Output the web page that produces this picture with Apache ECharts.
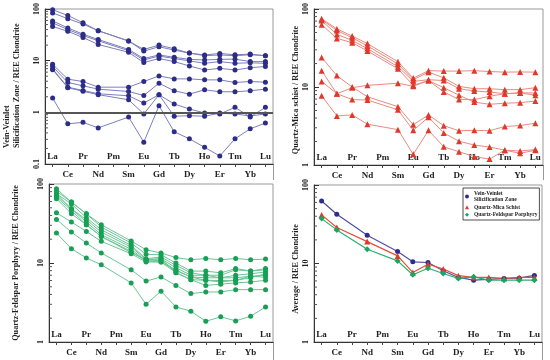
<!DOCTYPE html>
<html>
<head>
<meta charset="utf-8">
<script src="https://cdn.jsdelivr.net/npm/echarts@6/dist/echarts.min.js"></script>
<style>html,body{margin:0;padding:0;background:#fff}#c{width:550px;height:360px}</style>
</head>
<body>
<div id="c"></div>
<script>
const cats = ['La','Ce','Pr','Nd','Pm','Sm','Eu','Gd','Tb','Dy','Ho','Er','Tm','Yb','Lu'];

// Panel 1: Vein-Veinlet Silicification Zone
const vein1 = [97, 75, 54, 38, null, 24, 16.5, 20, 17, 14, 12.9, 13.8, 13, 13.4, 12.5];
const vein2 = [84, 65, 51, 38, null, 24, 15.3, 18.6, 16, 14, 12.5, 12.9, 12.5, 13, 12.5];
const vein3 = [58.8, 43, 32.6, 25.7, null, 16.5, 11, 12.9, 11.6, 10.6, 10.3, 10.6, 10.7, 9.6, 9.6];
const vein4 = [53.8, 40, 30.7, 24.3, null, 15.6, 10.3, 12.3, 11, 9.9, 8.9, 9.6, 8.9, 9.1, 8.9];
const vein5 = [46, 37, 28, 20.6, null, 14.5, 9.2, 11, 9.6, 7.9, 6.6, 7.1, 6.6, 7.3, 7.7];
const vein6 = [8.5, 4.38, 3.95, 3.07, null, 3.07, 3.95, 5.07, 4.44, 4.44, 4.25, 4.25, 3.78, 3.95, 3.83];
const vein7 = [7.67, 3.78, 3.26, 2.81, null, 2.53, 2.12, 3.66, 2.61, 2.25, 2.73, 2.5, 2.5, 2.61, 2.81];
const vein8 = [6.92, 3.07, 2.65, 2.29, null, 2.09, 1.51, 2.19, 1.45, 1.16, 0.97, 0.93, 1.25, 0.81, 1.25];
const vein9 = [6.7, 3.0, 2.55, 2.2, null, 1.75, 0.93, 2.19, 0.84, 0.86, 0.84, 0.97, 0.93, 0.85, 0.93];
const vein10 = [1.89, 0.6, 0.64, 0.5, null, 0.81, 0.265, 1.34, 0.42, 0.307, 0.21, 0.143, 0.307, 0.48, 0.62];

// Panel 2: Quartz-Mica schist
const schist1 = [75, 55.6, 45, 36, null, 21.1, 13, 16.2, 16, 16, 16.2, 15.8, 15.5, 15.6, 15.5];
const schist2 = [73, 53, 42.8, 33.6, null, 19.7, 12.4, 15.5, 13.1, 10.2, 9.5, 9.5, 9.25, 9.25, 9.8];
const schist3 = [71, 47.2, 39.6, 31.1, null, 18.2, 11.8, 12.4, 12.1, 9.5, 8.9, 8.6, 8.2, 8.4, 8.4];
const schist4 = [63, 42, 37, 29, null, 17.1, 10.5, 12.1, 9.8, 7.85, 6.4, 6.0, 6.2, 6.3, 6.6];
const schist5 = [11.8, 8.2, 9.8, 10.5, null, 11.2, 10.2, 12.1, 8.65, 6.9, 6.9, 7.6, 8.2, 8.4, 7.85];
const schist6 = [23.9, 14, 10, 7.5, null, 5.6, 3.28, 4.39, 3.19, 2.75, 2.78, 2.75, 3.12, 3.2, 3.44];
const schist7 = [16.2, 8.2, 6.9, 6.8, null, 5.1, 2.78, 4.1, 2.57, 2.02, 1.8, 1.7, 1.55, 1.41, 1.55];
const schist8 = [7.7, 4.26, 4.39, 3.34, null, 2.84, 1.37, 2.78, 1.71, 1.48, 1.28, 1.19, 1.55, 1.51, 1.58];

// Panel 3: Quartz-Feldspar Porphyry
const porph1 = [86.9, 59, 42, 30.5, null, 19, 14.7, 13.4, 11.7, 11.0, 11.4, 11.0, 11.4, 11.0, 11.2];
const porph2 = [81, 59, 42, 28.5, null, 17.9, 12.9, 12.7, 10, 7.9, 7.9, 7.5, 8.5, 7.9, 8.5];
const porph3 = [75, 56, 37.4, 26.4, null, 16.7, 11.3, 11.9, 9.35, 7.5, 7.0, 7.0, 8.2, 7.9, 8.2];
const porph4 = [75, 48.5, 35.3, 24.6, null, 15.9, 11, 11.3, 8.7, 7.0, 7.0, 6.5, 7.0, 7.3, 7.7];
const porph5 = [71.6, 48.5, 33, 22.8, null, 14.9, 10.6, 10.8, 8.1, 6.65, 6.5, 6.5, 6.5, 6.8, 7.0];
const porph6 = [68, 46.3, 30.5, 21.7, null, 14, 10.6, 10.3, 8.1, 6.65, 6.04, 6.0, 6.04, 6.8, 6.6];
const porph7 = [65, 42, 30.5, 21.7, null, 13.5, 11, 11.3, 7.55, 6.15, 6.04, 5.75, 6.04, 6.5, 7.3];
const porph8 = [43.2, 33, 25.1, 18.8, null, 13.1, 10.3, 10.3, 7.55, 6.15, 5.2, 5.4, 5.6, 5.75, 6.04];
const porph9 = [35.6, 24.6, 17.9, 13.4, null, 8.2, 5.9, 6.65, 5.2, 4.1, 4.3, 4.3, 4.6, 4.6, 4.6];
const porph10 = [23.9, 15.2, 11.6, 9.5, null, 5.6, 3.0, 4.4, 2.78, 2.45, 1.83, 2.08, 1.85, 2.12, 2.78];

// Panel 4: averages
const avgVein = [62.6, 42.4, null, 22.9, null, 14.2, 10.5, 10.3, 8.07, 6.64, 6.14, 6.26, 6.45, 6.5, 7.04];
const avgSchist = [41.6, 28.7, null, 19, null, 12.5, 7.7, 9.8, 8.5, 7.0, 6.64, 6.64, 6.45, 6.64, 6.64];
const avgPorph = [37.3, 26.8, null, 15.2, null, 10.8, 7.2, 8.7, 7.46, 6.45, 6.77, 6.14, 6.14, 6.14, 6.14];

const legendNames = ['Vein-Veinlet\nSilicification Zone', 'Quartz-Mica Schist', 'Quartz-Feldspar Porphyry'];
const yTitles = ['Quartz-Mica schist / REE Chondrite', 'Quartz-Feldspar Porphyry / REE Chondrite', 'Average / REE Chondrite'];

// minor tick positions on the log axes
const minorP1 = [0.2,0.3,0.4,0.5,0.6,0.7,0.8,0.9,2,3,4,5,6,7,8,9,20,30,40,50,60,70,80,90];
const minorP234 = [2,3,4,5,6,7,8,9,20,30,40,50,60,70,80,90];

const veinSeries = [vein1,vein2,vein3,vein4,vein5,vein6,vein7,vein8,vein9,vein10];
const schistSeries = [schist1,schist2,schist3,schist4,schist5,schist6,schist7,schist8];
const porphSeries = [porph1,porph2,porph3,porph4,porph5,porph6,porph7,porph8,porph9,porph10];

const FONT = 'Liberation Serif';
const lblFont = {fontFamily: FONT, fontWeight: 'bold', fontSize: 9, color: '#222'};

const grids = [
  {left: 45, top: 8, width: 228, height: 156},
  {left: 314, top: 8, width: 229, height: 157},
  {left: 49, top: 184, width: 224, height: 158},
  {left: 314, top: 185, width: 228, height: 157}
].map(g => Object.assign(g, {show: true, borderColor: '#999', borderWidth: 1, containLabel: false}));

const xAxis = [];
grids.forEach((g, i) => {
  xAxis.push({
    type: 'category', gridIndex: i, data: cats, boundaryGap: true, position: 'bottom',
    axisLine: {show: true, lineStyle: {color: '#333', width: 1}},
    axisTick: {show: true, inside: false, length: 3, alignWithLabel: true, interval: 0, lineStyle: {color: '#444'}},
    axisLabel: Object.assign({inside: true, interval: (idx) => idx % 2 === 0, margin: 3}, lblFont),
    splitLine: {show: false}
  });
  xAxis.push({
    type: 'category', gridIndex: i, data: cats, boundaryGap: true, position: 'bottom',
    axisLine: {show: false}, axisTick: {show: false},
    axisLabel: Object.assign({inside: false, interval: (idx) => idx % 2 === 1, margin: 6}, lblFont),
    splitLine: {show: false}
  });
});

const yMins = [0.1, 1, 1, 1];
const yAxis = grids.map((g, i) => ({
  type: 'log', logBase: 10, gridIndex: i, min: yMins[i], max: 100,
  axisLine: {show: true, lineStyle: {color: '#333', width: 1}},
  axisTick: {show: true, inside: true, length: 5, lineStyle: {color: '#333'}},
  axisLabel: {rotate: 90, margin: 4, fontFamily: FONT, fontWeight: 'bold', fontSize: 8, color: '#222',
    formatter: v => (v < 1 ? v.toFixed(1) : String(Math.round(v)))},
  splitLine: {show: false}
}));

const series = [];
function addGroup(list, gi, sym, symSize, markColor, lineColor) {
  list.forEach((d, k) => {
    series.push({
      type: 'line', name: 'p' + gi + '_' + k, xAxisIndex: gi * 2, yAxisIndex: gi, data: d,
      connectNulls: true, symbol: sym, symbolSize: symSize, showSymbol: true,
      itemStyle: {color: markColor}, lineStyle: {color: lineColor, width: 1}, z: 3,
      animation: false, silent: true
    });
  });
}
addGroup(veinSeries, 0, 'circle', 5, '#2d2d88', '#7d7dbd');
addGroup(schistSeries, 1, 'triangle', 6, '#e0392b', '#ea8b80');
addGroup(porphSeries, 2, 'circle', 5, '#17a055', '#6cc596');

// horizontal line at 1 in panel 1
series[0].markLine = {silent: true, symbol: 'none', label: {show: false},
  lineStyle: {color: '#555', width: 2, type: 'solid'}, data: [{yAxis: 1}]};

const avgDefs = [
  [avgVein, 'circle', 5, '#2d2d90', '#4e4ea4'],
  [avgSchist, 'triangle', 6, '#e0392b', '#e0503f'],
  [avgPorph, 'diamond', 6, '#16a85c', '#2ab06c']
];
avgDefs.forEach((a, k) => {
  series.push({
    type: 'line', name: legendNames[k], xAxisIndex: 6, yAxisIndex: 3, data: a[0],
    connectNulls: true, symbol: a[1], symbolSize: a[2],
    itemStyle: {color: a[3]}, lineStyle: {color: a[4], width: 1.2}, z: 3, animation: false
  });
});

// minor ticks drawn through the log axes
function minorTicks(gi, vals) {
  series.push({
    type: 'custom', xAxisIndex: gi * 2, yAxisIndex: gi, silent: true, animation: false, z: 2,
    data: vals.map(v => [0, v]),
    renderItem: (params, api) => {
      const p = api.coord([0, api.value(1)]);
      const x = params.coordSys.x;
      return {type: 'line', shape: {x1: x, y1: p[1], x2: x + 3, y2: p[1]}, style: {stroke: '#555', lineWidth: 1}};
    }
  });
}
minorTicks(0, minorP1); minorTicks(1, minorP234); minorTicks(2, minorP234); minorTicks(3, minorP234);

const tFont = 'bold 8.2px "Liberation Serif"';
const graphic = [
  {type: 'text', x: 7, y: 148, rotation: Math.PI / 2, style: {text: 'Vein-Veinlet', font: tFont, fill: '#222', align: 'left', verticalAlign: 'middle'}},
  {type: 'text', x: 17, y: 148, rotation: Math.PI / 2, style: {text: 'Silicification Zone / REE Chondrite', font: tFont, fill: '#222', align: 'left', verticalAlign: 'middle'}},
  {type: 'text', x: 296, y: 90, rotation: Math.PI / 2, style: {text: yTitles[0], font: tFont, fill: '#222', align: 'center', verticalAlign: 'middle'}},
  {type: 'text', x: 16, y: 263, rotation: Math.PI / 2, style: {text: yTitles[1], font: tFont, fill: '#222', align: 'center', verticalAlign: 'middle'}},
  {type: 'text', x: 296, y: 269, rotation: Math.PI / 2, style: {text: yTitles[2], font: tFont, fill: '#222', align: 'center', verticalAlign: 'middle'}},
  {type: 'line', shape: {x1: 273.5, y1: 164, x2: 273.5, y2: 180}, style: {stroke: '#999', lineWidth: 1}},
  {type: 'line', shape: {x1: 543.5, y1: 165, x2: 543.5, y2: 180}, style: {stroke: '#999', lineWidth: 1}},
  {type: 'line', shape: {x1: 273.5, y1: 342, x2: 273.5, y2: 360}, style: {stroke: '#999', lineWidth: 1}},
  {type: 'line', shape: {x1: 542.5, y1: 342, x2: 542.5, y2: 360}, style: {stroke: '#999', lineWidth: 1}}
];

const option = {
  animation: false,
  backgroundColor: '#fff',
  grid: grids,
  xAxis: xAxis,
  yAxis: yAxis,
  legend: {
    left: 463, top: 188, orient: 'vertical', itemWidth: 4, itemHeight: 4, itemGap: 1,
    padding: [2, 2, 2, 2], borderColor: '#222', borderWidth: 0.8, backgroundColor: '#fff',
    textStyle: {fontFamily: FONT, fontWeight: 'bold', fontSize: 5.5, color: '#222', lineHeight: 6.5},
    data: [
      {name: legendNames[0], icon: 'circle'},
      {name: legendNames[1], icon: 'triangle'},
      {name: legendNames[2], icon: 'diamond'}
    ]
  },
  graphic: graphic,
  series: series
};

const chart = echarts.init(document.getElementById('c'), null, {renderer: 'canvas'});
chart.setOption(option);
</script>
</body>
</html>
